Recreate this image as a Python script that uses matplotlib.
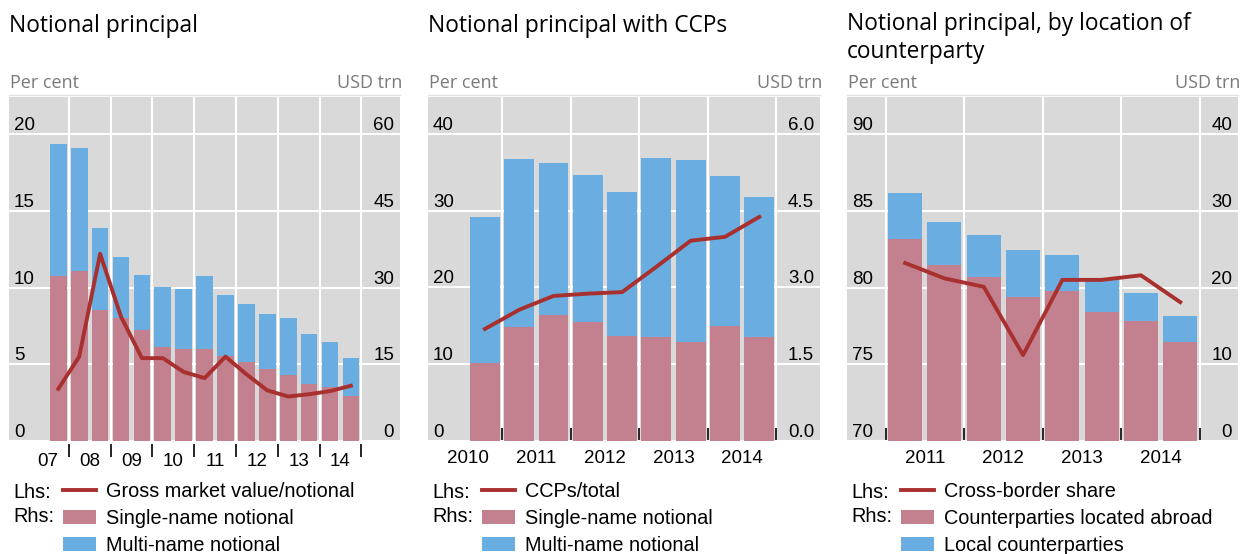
import numpy as np
import matplotlib.pyplot as plt
from matplotlib.ticker import FormatStrFormatter

plt.rcParams['font.family'] = ['Liberation Sans', 'DejaVu Sans']

# ---- data -------------------------------------------------------------
# panel 1: half-years 2007H2 .. 2014H2
periods_1 = ['07H2', '08H1', '08H2', '09H1', '09H2', '10H1', '10H2', '11H1',
             '11H2', '12H1', '12H2', '13H1', '13H2', '14H1', '14H2']
gross_ratio = [3.4, 5.5, 12.2, 8.1, 5.4, 5.4, 4.5, 4.1, 5.5, 4.35, 3.3, 2.9, 3.05, 3.25, 3.6]
single_1 = [32.3, 33.2, 25.6, 24.0, 21.7, 18.3, 18.0, 18.0, 16.6, 15.4, 14.0, 12.9, 11.1, 10.5, 8.8]
multi_1 = [25.8, 24.1, 16.1, 12.0, 10.7, 11.8, 11.7, 14.3, 11.9, 11.4, 10.8, 11.1, 9.8, 8.8, 7.4]
year_labels_1 = ['07', '08', '09', '10', '11', '12', '13', '14']

# panel 2: half-years 2010H2 .. 2014H2
periods_2 = ['10H2', '11H1', '11H2', '12H1', '12H2', '13H1', '13H2', '14H1', '14H2']
ccp_share = [14.6, 17.1, 18.9, 19.2, 19.4, 22.7, 26.1, 26.6, 29.2]
single_2 = [1.52, 2.23, 2.46, 2.33, 2.06, 2.03, 1.94, 2.25, 2.03]
multi_2 = [2.86, 3.29, 2.98, 2.87, 2.81, 3.51, 3.56, 2.93, 2.74]
year_labels_2 = ['2010', '2011', '2012', '2013', '2014']

# panel 3: half-years 2011H1 .. 2014H2
periods_3 = ['11H1', '11H2', '12H1', '12H2', '13H1', '13H2', '14H1', '14H2']
cross_border = [81.6, 80.6, 80.05, 75.6, 80.5, 80.5, 80.8, 79.05]
abroad = [26.3, 22.9, 21.4, 18.8, 19.5, 16.8, 15.6, 12.9]
local = [6.0, 5.6, 5.4, 6.1, 4.7, 4.3, 3.7, 3.4]
year_labels_3 = ['2011', '2012', '2013', '2014']

# ---- style ------------------------------------------------------------
BG = '#d9d9d9'
PINK = '#c3808f'
BLUE = '#6aade0'
RED = '#a8302e'
GREY_TXT = '#7a7a7a'
TICK_FS = 13.5
LEG_FS = 14.3
TITLE_FONT = ['Open Sans', 'DejaVu Sans']

W, H = 1254, 554
fig = plt.figure(figsize=(W / 100, H / 100), dpi=100)
fig.patch.set_facecolor('white')

TOP, BOTTOM = 97, 441


def draw_panel(x0, x1, title, title_y, n, low, high, line_vals, left_lim, left_ticks,
               right_lim, right_ticks, xlim, bar_w, bounds, label_pos,
               labels, ticks_out, leg_labels):
    rect = [x0 / W, 1 - BOTTOM / H, (x1 - x0) / W, (BOTTOM - TOP) / H]
    ax = fig.add_axes(rect)
    axl = ax.twinx()
    ax.set_facecolor(BG)
    x = np.arange(n)
    b1 = ax.bar(x, low, bar_w, color=PINK, zorder=2)
    b2 = ax.bar(x, high, bar_w, bottom=low, color=BLUE, zorder=2)
    ax.set_xlim(*xlim)

    # right axis (USD trn) carries the bars
    ax.set_ylim(*right_lim)
    ax.set_yticks(right_ticks)
    ax.yaxis.tick_right()
    ax.tick_params(axis='y', length=0, pad=-4.3, labelsize=TICK_FS)
    for lab in ax.get_yticklabels():
        lab.set_ha('right')
        lab.set_va('bottom')

    ax.set_xticks(label_pos)
    ax.set_xticklabels(labels)
    ax.set_xticks(bounds, minor=True)
    if ticks_out:
        ax.tick_params(axis='x', which='minor', direction='out', length=9,
                       width=1.2, color='black')
        ax.spines['bottom'].set_position(('outward', 2))
    else:
        ax.tick_params(axis='x', which='minor', direction='in', length=9.5,
                       width=1.2, color='black')
    ax.tick_params(axis='x', which='major', length=0, pad=6.5, labelsize=TICK_FS)
    ax.grid(which='minor', axis='x', color='white', lw=1.5)
    ax.grid(which='major', axis='y', color='white', lw=1.5)
    ax.set_axisbelow(True)
    for s in ['left', 'right', 'bottom']:
        ax.spines[s].set_visible(False)
    ax.spines['top'].set_color('#e3e3e3')
    ax.spines['top'].set_linewidth(1.0)
    ax.spines['top'].set_position(('outward', 1.5))

    # left axis (per cent) carries the line
    ln, = axl.plot(x, line_vals, color=RED, lw=2.8, zorder=3)
    axl.set_ylim(*left_lim)
    axl.set_yticks(left_ticks)
    axl.yaxis.tick_left()
    axl.tick_params(axis='y', length=0, pad=-3.6, labelsize=TICK_FS)
    for lab in axl.get_yticklabels():
        lab.set_ha('left')
        lab.set_va('bottom')
    for s in axl.spines.values():
        s.set_visible(False)

    # titles and unit labels
    fig.text(x0 / W, 1 - title_y / H, title, family=TITLE_FONT,
             fontsize=16.4, va='baseline', ha='left', linespacing=1.22)
    fig.text((x0 + 1) / W, 1 - 88 / H, 'Per cent', family=TITLE_FONT,
             fontsize=13, color=GREY_TXT, va='baseline', ha='left')
    fig.text((x1 + 2) / W, 1 - 88 / H, 'USD trn', family=TITLE_FONT,
             fontsize=13, color=GREY_TXT, va='baseline', ha='right')

    # legend
    fig.text((x0 + 4) / W, 1 - 492 / H, 'Lhs:', fontsize=LEG_FS, va='center')
    fig.text((x0 + 4) / W, 1 - 517 / H, 'Rhs:', fontsize=LEG_FS, va='center')
    fig.legend([ln, b1, b2], leg_labels, loc='upper left',
               bbox_to_anchor=((x0 + 54) / W, 1 - 482 / H), frameon=False,
               fontsize=LEG_FS, handlelength=1.66, handleheight=0.7,
               handletextpad=0.5, labelspacing=0.4, borderpad=0,
               borderaxespad=0)
    return ax, axl


draw_panel(9, 400, 'Notional principal', 32, len(periods_1), single_1, multi_1,
           gross_ratio, (0, 22.42), [0, 5, 10, 15, 20], (0, 67.26),
           [0, 15, 30, 45, 60], (-2.36, 16.35), 0.8,
           np.arange(0.5, 15, 2), np.arange(-0.5, 14, 2), year_labels_1, True,
           ['Gross market value/notional', 'Single-name notional',
            'Multi-name notional'])

ax2, axl2 = draw_panel(428, 820, 'Notional principal with CCPs', 32, len(periods_2),
                       single_2, multi_2, ccp_share, (0, 44.82), [0, 10, 20, 30, 40],
                       (0, 6.723), [0, 1.5, 3.0, 4.5, 6.0], (-1.66, 9.77), 0.87,
                       np.arange(0.5, 9, 2), np.arange(-0.5, 8, 2), year_labels_2,
                       False, ['CCPs/total', 'Single-name notional',
                               'Multi-name notional'])
ax2.yaxis.set_major_formatter(FormatStrFormatter('%.1f'))

draw_panel(847, 1238, 'Notional principal, by location of\ncounterparty', 58,
           len(periods_3), abroad, local, cross_border, (70, 92.42),
           [70, 75, 80, 85, 90], (0, 44.84), [0, 10, 20, 30, 40],
           (-1.48, 8.47), 0.865, np.arange(-0.5, 8, 2),
           np.arange(0.5, 7, 2), year_labels_3, False,
           ['Cross-border share', 'Counterparties located abroad',
            'Local counterparties'])

fig.savefig('out.png', dpi=100, facecolor='white')
